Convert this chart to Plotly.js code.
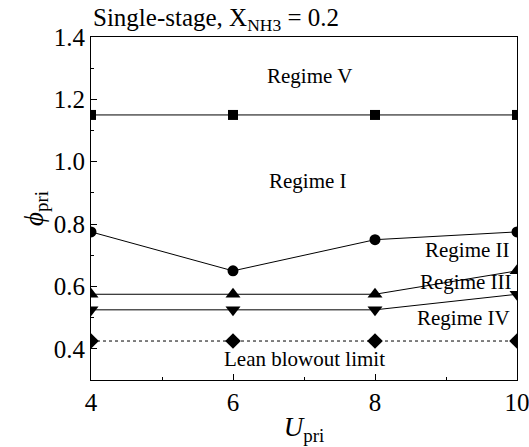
<!DOCTYPE html>
<html>
<head>
<meta charset="utf-8">
<script src="https://cdn.plot.ly/plotly-3.0.1.min.js"></script>
<style>html,body{margin:0;padding:0;background:#fff;}#chart{width:529px;height:447px;}</style>
</head>
<body>
<div id="chart"></div>
<script>
const uPri = [4, 6, 8, 10];
const regimeV = [1.15, 1.15, 1.15, 1.15];
const regimeI = [0.775, 0.65, 0.75, 0.775];
const regimeII = [0.575, 0.575, 0.575, 0.65];
const regimeIII = [0.525, 0.525, 0.525, 0.575];
const leanBlowout = [0.425, 0.425, 0.425, 0.425];
const labels = ["Regime V", "Regime I", "Regime II", "Regime III", "Regime IV", "Lean blowout limit"];
const labelX = [7.08, 7.05, 9.3, 9.28, 9.25, 7.0];
const labelY = [1.275, 0.938, 0.717, 0.615, 0.499, 0.366];

const F = '"Liberation Serif", "Times New Roman", Times, serif';
function tr(y, sym, size, dash) {
  return {x: uPri, y: y, type: 'scatter', mode: 'lines+markers',
    line: {color: '#000', width: 1, dash: dash || 'solid'},
    marker: {symbol: sym, size: size, color: '#000'}, showlegend: false};
}
const data = [
  tr(regimeV, 'square', 10),
  tr(regimeI, 'circle', 11),
  tr(regimeII, 'triangle-up', 13),
  tr(regimeIII, 'triangle-down', 13),
  tr(leanBlowout, 'diamond', 12, 'dot')
];
const annotations = labels.map((t, i) => ({x: labelX[i], y: labelY[i], xref: 'x', yref: 'y', text: t,
  showarrow: false, font: {family: F, size: 21, color: '#000'}}));
annotations.push({x: 0, xref: 'paper', xanchor: 'left', y: 1, yref: 'paper', yanchor: 'bottom', yshift: 0,
  text: 'Single-stage, X<sub>NH3</sub> = 0.2', showarrow: false, font: {family: F, size: 25, color: '#000'}});
const layout = {
  width: 529, height: 447,
  margin: {l: 91, r: 12, t: 37, b: 67},
  paper_bgcolor: '#fff', plot_bgcolor: '#fff',
  font: {family: F, color: '#000'},
  xaxis: {range: [4, 10], tickvals: [4, 6, 8, 10], ticks: 'inside', ticklen: 6, tickcolor: '#000',
    ticklabeloverflow: 'allow',
    minor: {ticks: 'inside', tickvals: [5, 7, 9], ticklen: 3, tickcolor: '#000'},
    showline: true, linecolor: '#000', linewidth: 1, mirror: true, showgrid: false, zeroline: false,
    tickfont: {family: F, size: 25, color: '#000'},
    title: {text: '<i>U</i><sub>pri</sub>', font: {family: F, size: 27, color: '#000'}, standoff: 2}},
  yaxis: {range: [0.3, 1.4], tickvals: [0.4, 0.6, 0.8, 1.0, 1.2, 1.4], ticktext: ['0.4','0.6','0.8','1.0','1.2','1.4'],
    ticks: 'inside', ticklen: 6, tickcolor: '#000', ticklabeloverflow: 'allow',
    minor: {ticks: 'inside', tickvals: [0.5, 0.7, 0.9, 1.1, 1.3], ticklen: 3, tickcolor: '#000'},
    showline: true, linecolor: '#000', linewidth: 1, mirror: true, showgrid: false, zeroline: false,
    tickfont: {family: F, size: 25, color: '#000'},
    title: {text: '<i>ϕ</i><sub>pri</sub>', font: {family: F, size: 27, color: '#000'}, standoff: 2}},
  annotations: annotations
};
Plotly.newPlot('chart', data, layout, {staticPlot: true, displayModeBar: false});
</script>
</body>
</html>
